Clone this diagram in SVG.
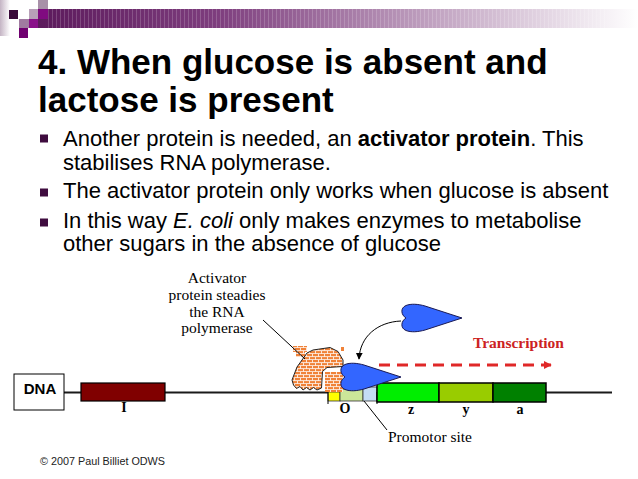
<svg xmlns="http://www.w3.org/2000/svg" width="638" height="479" viewBox="0 0 638 479">
<style>
.title{font-family:"Liberation Sans",Arial,sans-serif;font-weight:bold;font-size:35px;fill:#000}
.body{font-family:"Liberation Sans",Arial,sans-serif;font-size:22px;fill:#000}
.lbl{font-family:"Liberation Serif","Times New Roman",serif;font-size:15.5px;fill:#000}
.gl{font-family:"Liberation Serif","Times New Roman",serif;font-size:14px;font-weight:bold;fill:#000}
.bul{fill:#3f0c3f}
.pol{fill:#3366ff;stroke:#1a1a55;stroke-width:1}
.lead{stroke:#000;stroke-width:1;fill:none}
</style>
<defs>
<linearGradient id="hg" x1="38" y1="0" x2="638" y2="0" gradientUnits="userSpaceOnUse">
<stop offset="0" stop-color="#5c1a5c"/>
<stop offset="0.3" stop-color="#7e3e7e"/>
<stop offset="0.65" stop-color="#bfa0bf"/>
<stop offset="1" stop-color="#ffffff"/>
</linearGradient>
<linearGradient id="lg" x1="0" y1="0" x2="1" y2="0">
<stop offset="0" stop-color="#c4b4c4"/>
<stop offset="1" stop-color="#ffffff"/>
</linearGradient>
<pattern id="stripes" width="4" height="20" patternUnits="userSpaceOnUse">
<rect x="0" y="0" width="1" height="20" fill="#ffffff" fill-opacity="0.18"/>
</pattern>
<pattern id="brick" width="6" height="6" patternUnits="userSpaceOnUse">
<rect width="6" height="6" fill="#f08238"/>
<path d="M0,2.6H6M0,5.6H6M0.5,0V2.6M3.5,3V5.6" stroke="#ffffff" stroke-width="0.8" fill="none"/>
</pattern>
<path id="polshape" d="M6,14 C1,11 0,4 6,1.5 C11,-0.5 18,0 25,2 L62,14 L25,26 C18,28 11,28.5 6,26.5 C0,24 1,17 6,14 Z"/>
<marker id="ah" viewBox="0 0 10 10" refX="9" refY="5" markerWidth="7" markerHeight="7" orient="auto" markerUnits="userSpaceOnUse">
<path d="M0,0 L10,5 L0,10 Z" fill="#000"/>
</marker>
<marker id="ahr" viewBox="0 0 10 10" refX="9" refY="5" markerWidth="8" markerHeight="8" orient="auto" markerUnits="userSpaceOnUse">
<path d="M0,0 L10,5 L0,10 Z" fill="#e02828"/>
</marker>
</defs>

<rect width="638" height="479" fill="#ffffff"/>

<g id="header">
<rect x="0" y="0" width="10" height="36" fill="url(#lg)"/>
<rect x="38" y="9" width="600" height="19" fill="url(#hg)"/>
<rect x="48" y="9" width="560" height="19" fill="url(#stripes)"/>
<rect x="9" y="10" width="9" height="9" fill="#3a0a3a"/>
<rect x="29" y="9" width="9" height="10" fill="#b8a0b8"/>
<rect x="38" y="0" width="10" height="9" fill="#a890a8"/>
<rect x="38" y="9" width="10" height="10" fill="#800a80"/>
<rect x="19" y="19" width="10" height="9" fill="#a07aa0"/>
<rect x="29" y="19" width="9" height="9" fill="#8a108a"/>
<rect x="19" y="28" width="9" height="10" fill="#700070"/>
</g>

<g id="title">
<text class="title" x="38" y="74">4. When glucose is absent and</text>
<text class="title" x="38" y="112">lactose is present</text>
</g>

<g id="bullets">
<rect class="bul" x="40" y="134.5" width="8" height="8"/>
<rect class="bul" x="40" y="188.5" width="8" height="8"/>
<rect class="bul" x="40" y="218.5" width="8" height="8"/>
<text class="body" x="63" y="146">Another protein is needed, an <tspan font-weight="bold">activator protein</tspan>. This</text>
<text class="body" x="63" y="170">stabilises RNA polymerase.</text>
<text class="body" x="63" y="198">The activator protein only works when glucose is absent</text>
<text class="body" x="63" y="228">In this way <tspan font-style="italic">E. coli</tspan> only makes enzymes to metabolise</text>
<text class="body" x="63" y="251">other sugars in the absence of glucose</text>
</g>

<g id="dna">
<line x1="64" y1="392.5" x2="612" y2="392.5" stroke="#1a1a1a" stroke-width="1.8"/>
<rect x="14" y="374" width="50" height="36" fill="#fff" stroke="#000" stroke-width="1"/>
<text x="40" y="394" text-anchor="middle" font-family="Liberation Sans,Arial,sans-serif" font-weight="bold" font-size="15">DNA</text>
</g>

<g id="gene-I">
<rect x="81" y="383" width="84" height="18" fill="#800000" stroke="#000" stroke-width="1.2"/>
<text class="gl" x="124" y="412" text-anchor="middle">I</text>
</g>

<g id="operator">
<rect x="328" y="392" width="12" height="9" fill="#ffff00" stroke="#333" stroke-width="0.8"/>
<rect x="340" y="389" width="23" height="12" fill="#cce699" stroke="#333" stroke-width="0.8"/>
<rect x="363" y="387" width="14" height="14" fill="#c4dcf4" stroke="#333" stroke-width="0.8"/>
<line x1="328" y1="392" x2="328" y2="404" stroke="#000" stroke-width="1"/>
<line x1="377" y1="392" x2="377" y2="404" stroke="#000" stroke-width="1"/>
<text class="gl" x="345" y="413" text-anchor="middle">O</text>
</g>

<g id="genes">
<rect x="377" y="383" width="62" height="19" fill="#00ee00" stroke="#000" stroke-width="1.5"/>
<rect x="439" y="383" width="54" height="19" fill="#99cc00" stroke="#000" stroke-width="1.5"/>
<rect x="493" y="383" width="53" height="19" fill="#008000" stroke="#000" stroke-width="1.5"/>
<text class="gl" x="411" y="414" text-anchor="middle">z</text>
<text class="gl" x="466" y="414" text-anchor="middle">y</text>
<text class="gl" x="520" y="414" text-anchor="middle">a</text>
</g>

<g id="activator-protein">
<rect x="293" y="346" width="14" height="6" fill="url(#brick)"/>
<rect x="296" y="352" width="9" height="5" fill="url(#brick)"/>
<rect x="341" y="347" width="3" height="4" fill="#f08238"/>
<polygon points="292,380 297,367 307,353 313,350 330,347.5 338,351.5 343,360 343,366.5 327,367.5 322.5,371.5 321.5,388 317,390 313.5,387.5 310,390 306.5,387.5 303,390 300,386.5 296.5,388.5 293.5,385" fill="url(#brick)" stroke="#222" stroke-width="1"/>
<rect x="325" y="372" width="18" height="20" fill="url(#brick)"/>
</g>

<g id="rna-polymerase-bound">
<use href="#polshape" class="pol" x="339" y="363"/>
</g>

<g id="rna-polymerase-free">
<use href="#polshape" class="pol" x="400" y="304"/>
</g>

<g id="labels">
<text class="lbl" x="217" y="283" text-anchor="middle">Activator</text>
<text class="lbl" x="217" y="300" text-anchor="middle">protein steadies</text>
<text class="lbl" x="217" y="317" text-anchor="middle">the RNA</text>
<text class="lbl" x="217" y="333" text-anchor="middle">polymerase</text>
<text class="lbl" x="388" y="442">Promotor site</text>
<text x="473" y="348" font-family="Liberation Serif,Times New Roman,serif" font-weight="bold" font-size="15.5" fill="#cc2222">Transcription</text>
<text x="40" y="465" font-family="Liberation Sans,Arial,sans-serif" font-size="10.8" fill="#222">© 2007 Paul Billiet ODWS</text>
</g>

<g id="connectors">
<line class="lead" x1="263" y1="320" x2="305" y2="359"/>
<line class="lead" x1="364" y1="401" x2="387" y2="430"/>
<path class="lead" d="M401,321 C378,322 360,336 359,359" stroke-width="1.5" marker-end="url(#ah)"/>
<line x1="379" y1="365" x2="551" y2="365" stroke="#e02828" stroke-width="3" stroke-dasharray="11,7" marker-end="url(#ahr)"/>
</g>
</svg>
